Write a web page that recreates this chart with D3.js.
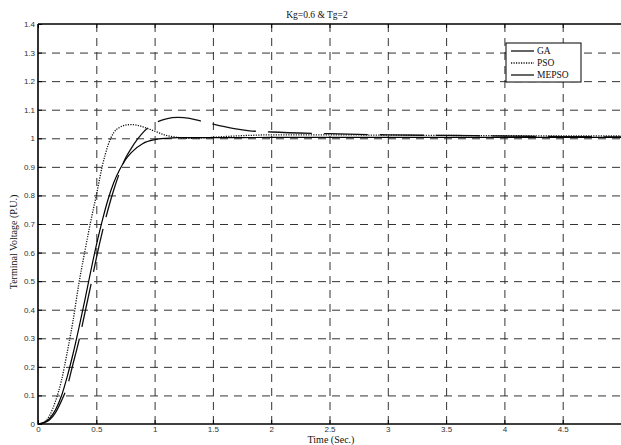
<!DOCTYPE html>
<html>
<head>
<meta charset="utf-8">
<script src="https://cdn.jsdelivr.net/npm/d3@7"></script>
<style>
  body { margin: 0; background: #fff; }
  .tick text { font-family: "Liberation Sans", Arial, sans-serif; font-size: 8px; fill: #333; }
  .lbl { font-family: "Liberation Serif", "Times New Roman", serif; font-size: 9.5px; fill: #111; }
</style>
</head>
<body>
<div id="chart"></div>
<script>
var svgWidth = 621;
var svgHeight = 445;

var margin = { top: 24, right: 0, bottom: 21, left: 38 };
var chartWidth = svgWidth - margin.left - margin.right;
var chartHeight = svgHeight - margin.top - margin.bottom;

// tick values / labels
var xTicks = [0, 0.5, 1, 1.5, 2, 2.5, 3, 3.5, 4, 4.5];
var xTickLabels = ["0", "0.5", "1", "1.5", "2", "2.5", "3", "3.5", "4", "4.5"];
var yTicks = [0, 0.1, 0.2, 0.3, 0.4, 0.5, 0.6, 0.7, 0.8, 0.9, 1, 1.1, 1.2, 1.3, 1.4];
var yTickLabels = ["0", "0.1", "0.2", "0.3", "0.4", "0.5", "0.6", "0.7", "0.8", "0.9", "1", "1.1", "1.2", "1.3", "1.4"];

// series
var gaTime  = [0, 0.05, 0.1, 0.15, 0.2, 0.25, 0.3, 0.35, 0.4, 0.45, 0.5, 0.55, 0.6, 0.65, 0.7, 0.75, 0.8, 0.85, 0.9, 1.0, 1.1, 1.2, 1.3, 1.4, 1.5, 1.67, 1.8, 2.0, 2.5, 3, 3.5, 4, 4.5, 5];
var gaValue = [0, 0.004, 0.015, 0.04, 0.08, 0.13, 0.21, 0.29, 0.385, 0.48, 0.58, 0.67, 0.75, 0.82, 0.88, 0.93, 0.965, 0.995, 1.02, 1.052, 1.068, 1.073, 1.07, 1.06, 1.05, 1.035, 1.027, 1.022, 1.016, 1.012, 1.01, 1.008, 1.006, 1.005];

var psoTime  = [0, 0.05, 0.1, 0.15, 0.2, 0.25, 0.3, 0.35, 0.4, 0.45, 0.5, 0.55, 0.6, 0.65, 0.7, 0.75, 0.8, 0.85, 0.9, 1.0, 1.1, 1.2, 1.3, 1.4, 1.6, 1.8, 2.0, 2.5, 3, 4, 5];
var psoValue = [0, 0.006, 0.03, 0.08, 0.15, 0.25, 0.36, 0.49, 0.6, 0.705, 0.8, 0.9, 0.975, 1.02, 1.038, 1.046, 1.048, 1.046, 1.04, 1.025, 1.01, 1.003, 1.0, 1.001, 1.006, 1.01, 1.012, 1.012, 1.011, 1.009, 1.008];

var mepsoTime  = [0, 0.05, 0.1, 0.15, 0.2, 0.25, 0.3, 0.35, 0.4, 0.45, 0.5, 0.55, 0.6, 0.65, 0.7, 0.75, 0.8, 0.9, 1.0, 1.1, 1.2, 1.5, 2, 3, 4, 5];
var mepsoValue = [0, 0.005, 0.02, 0.05, 0.097, 0.165, 0.245, 0.335, 0.43, 0.53, 0.625, 0.71, 0.785, 0.845, 0.89, 0.925, 0.95, 0.982, 0.995, 1.0, 1.002, 1.002, 1.003, 1.003, 1.003, 1.003];

var seriesNames = ["GA", "PSO", "MEPSO"];

var svg = d3.select("#chart")
  .append("svg")
  .attr("width", svgWidth)
  .attr("height", svgHeight);

var chartGroup = svg.append("g")
  .attr("transform", `translate(${margin.left}, ${margin.top})`);

var xLinearScale = d3.scaleLinear().domain([0, 5]).range([0, chartWidth]);
var yLinearScale = d3.scaleLinear().domain([0, 1.4]).range([chartHeight, 0]);

// grid lines (dashed)
chartGroup.append("g")
  .attr("transform", `translate(0, ${chartHeight})`)
  .call(d3.axisBottom(xLinearScale).tickValues(xTicks.slice(1)).tickSize(-chartHeight).tickFormat(""))
  .call(g => g.select(".domain").remove())
  .selectAll("line")
  .attr("stroke", "#333")
  .attr("stroke-dasharray", "8,6");

chartGroup.append("g")
  .call(d3.axisLeft(yLinearScale).tickValues(yTicks.slice(1, -1)).tickSize(-chartWidth).tickFormat(""))
  .call(g => g.select(".domain").remove())
  .selectAll("line")
  .attr("stroke", "#333")
  .attr("stroke-dasharray", "8,6");

// axes with inward ticks
var bottomAxis = d3.axisBottom(xLinearScale)
  .tickValues(xTicks)
  .tickFormat((d, i) => xTickLabels[i])
  .tickSizeInner(-4)
  .tickSizeOuter(0)
  .tickPadding(2);

var leftAxis = d3.axisLeft(yLinearScale)
  .tickValues(yTicks)
  .tickFormat((d, i) => yTickLabels[i])
  .tickSizeInner(-4)
  .tickSizeOuter(0)
  .tickPadding(3);

chartGroup.append("g")
  .attr("transform", `translate(0, ${chartHeight})`)
  .call(bottomAxis)
  .call(g => g.select(".domain").remove());

chartGroup.append("g")
  .call(leftAxis)
  .call(g => g.select(".domain").remove());

// top ticks
chartGroup.append("g")
  .call(d3.axisTop(xLinearScale).tickValues(xTicks).tickSizeInner(-4).tickSizeOuter(0).tickFormat(""))
  .call(g => g.select(".domain").remove());

// curves
var line = d3.line()
  .x(d => xLinearScale(d[0]))
  .y(d => yLinearScale(d[1]))
  .curve(d3.curveMonotoneX);

var gaData = d3.zip(gaTime, gaValue);
var psoData = d3.zip(psoTime, psoValue);
var mepsoData = d3.zip(mepsoTime, mepsoValue);

var styles = {
  GA: { dash: "44,12", width: 1.3, color: "#111" },
  PSO: { dash: "1.2,1.3", width: 1.3, color: "#111" },
  MEPSO: { dash: null, width: 1.2, color: "#000" }
};

[gaData, psoData, mepsoData].forEach(function(data, i) {
  var s = styles[seriesNames[i]];
  chartGroup.append("path")
    .datum(data)
    .attr("fill", "none")
    .attr("stroke", s.color)
    .attr("stroke-width", s.width)
    .attr("stroke-dasharray", s.dash)
    .attr("d", line);
});

// frame
chartGroup.append("path")
  .attr("d", `M0,0H${chartWidth}M0,0V${chartHeight}H${chartWidth}`)
  .attr("fill", "none")
  .attr("stroke", "#000")
  .attr("stroke-width", 1.6);

// legend
var legend = svg.append("g").attr("transform", "translate(506, 43)");
legend.append("rect")
  .attr("width", 75)
  .attr("height", 39)
  .attr("fill", "#fff")
  .attr("stroke", "#000")
  .attr("stroke-width", 1);

seriesNames.forEach(function(name, i) {
  var s = styles[name];
  var yy = 8 + i * 12;
  legend.append("line")
    .attr("x1", 5).attr("x2", 28)
    .attr("y1", yy).attr("y2", yy)
    .attr("stroke", s.color)
    .attr("stroke-width", s.width)
    .attr("stroke-dasharray", s.dash);
  legend.append("text")
    .attr("class", "lbl")
    .attr("x", 31)
    .attr("y", yy + 3)
    .text(name);
});

// title and axis labels
svg.append("text")
  .attr("class", "lbl")
  .attr("x", 317)
  .attr("y", 18)
  .attr("text-anchor", "middle")
  .text("Kg=0.6 & Tg=2");

svg.append("text")
  .attr("class", "lbl")
  .attr("x", 331)
  .attr("y", 443)
  .attr("text-anchor", "middle")
  .style("font-size", "10px")
  .text("Time (Sec.)");

svg.append("text")
  .attr("class", "lbl")
  .attr("transform", "translate(17, 242) rotate(-90)")
  .attr("text-anchor", "middle")
  .style("font-size", "10px")
  .text("Terminal Voltage (P.U.)");
</script>
</body>
</html>
